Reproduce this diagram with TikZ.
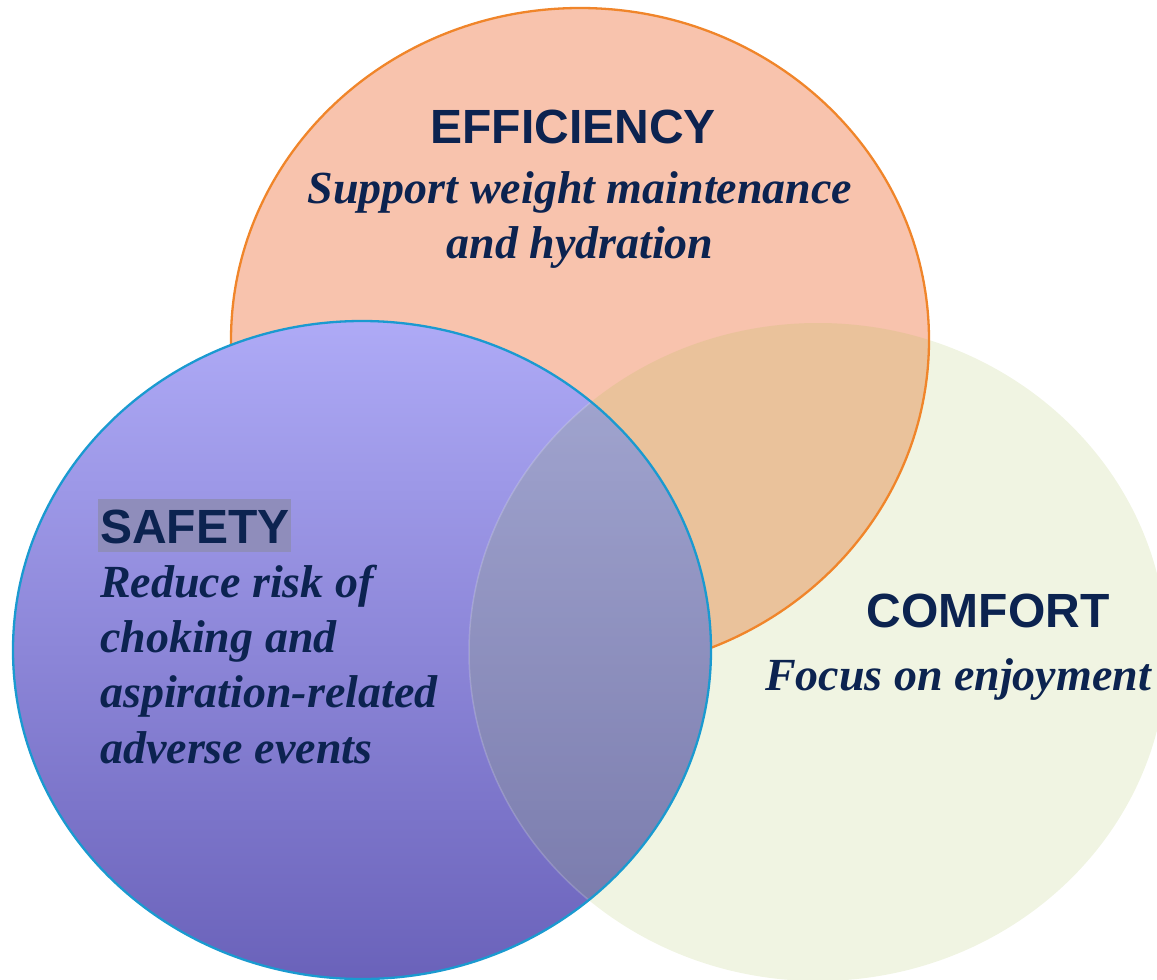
\documentclass[tikz,border=0pt]{standalone}
\usepackage{fontspec}
\setmainfont{Liberation Serif}
\setsansfont{Liberation Sans}
\begin{document}
\definecolor{effFill}{HTML}{F8C3AD}
\definecolor{effLine}{HTML}{F0852A}
\definecolor{comFill}{HTML}{F0F4E2}
\definecolor{effCom}{HTML}{EAC29B}
\definecolor{safTop}{HTML}{AEAAF6}
\definecolor{safBot}{HTML}{6A62BA}
\definecolor{safLine}{HTML}{1A9AD0}
\definecolor{tint}{RGB}{146,168,131}
\definecolor{ink}{HTML}{0C2350}
\definecolor{hilite}{HTML}{8F8DBB}
\tikzset{
  head/.style={font=\sffamily\bfseries\fontsize{48}{58}\selectfont, text=ink, inner sep=0pt},
  body/.style={font=\itshape\bfseries\fontsize{46}{55}\selectfont, text=ink, inner sep=0pt, anchor=base},
}
\begin{tikzpicture}[x=1pt,y=-1pt]
\useasboundingbox (0,0) rectangle (1157,980);
% centres of the three sets
\coordinate (E) at (580,340);
\coordinate (C) at (818,652);
\coordinate (S) at (362,650);
\def\effpath{(E) ellipse [x radius=349, y radius=332]}
\def\compath{(C) ellipse [x radius=349, y radius=329]}
\def\safpath{(S) ellipse [x radius=349, y radius=329]}
% comfort and efficiency
\fill[comFill] \compath;
\fill[effFill] \effpath;
\begin{scope}
  \clip \effpath;
  \fill[effCom] \compath;
\end{scope}
\draw[effLine, line width=2.3pt] \effpath;
% safety with its gradient
\shade[top color=safTop, bottom color=safBot] \safpath;
\begin{scope}
  \clip \safpath;
  \fill[tint, opacity=0.3] \compath;
  \draw[white, opacity=0.18, line width=1.5pt] \compath;
\end{scope}
\draw[safLine, line width=2.3pt] \safpath;
% labels
\node[head, anchor=base] (effT) at (573,143) {EFFICIENCY};
\node[body] (eff1) at (580,203) {Support weight maintenance};
\node[body] (eff2) at (580,258) {and hydration};
\fill[hilite] (98,499) rectangle (291,552);
\node[head, anchor=base west] (safT) at (100,543) {SAFETY};
\node[body, anchor=base west] (saf1) at (100,597) {Reduce risk of};
\node[body, anchor=base west] (saf2) at (100,652) {choking and};
\node[body, anchor=base west] (saf3) at (100,707) {aspiration-related};
\node[body, anchor=base west] (saf4) at (100,763) {adverse events};
\node[head, anchor=base] (comT) at (988,627) {COMFORT};
\node[body] (com1) at (958,690) {Focus on enjoyment};
\end{tikzpicture}
\end{document}
